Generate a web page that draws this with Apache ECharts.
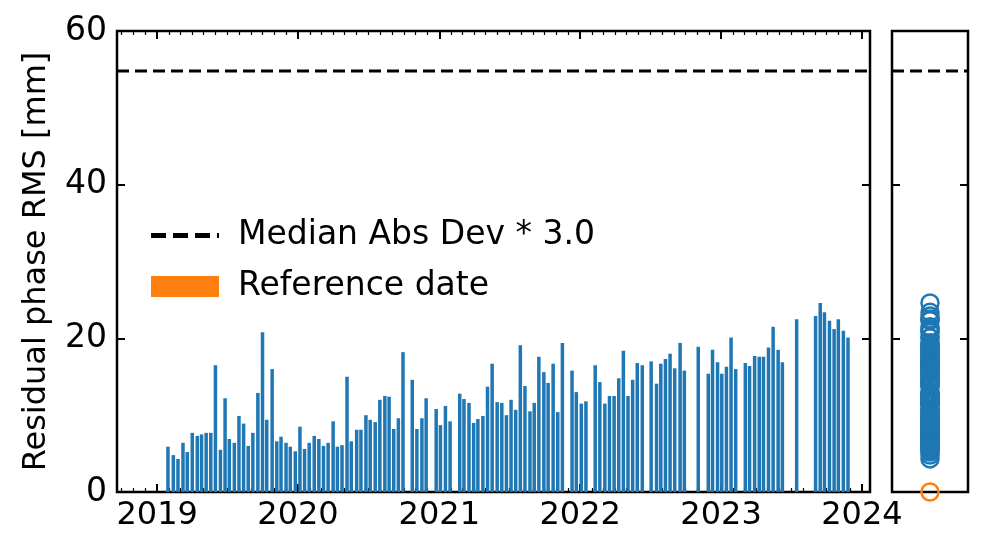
<!DOCTYPE html>
<html lang="en">
<head>
    <meta charset="UTF-8">
    <title>Residual phase RMS</title>
    <script src="https://cdn.jsdelivr.net/npm/echarts@6/dist/echarts.min.js"></script>
</head>
<body style="margin:0">
    <div id="main" style="width: 989px;height:555px;"></div>
    <script type="text/javascript">
        // days since 2019-01-01 for each acquisition
        var days = [28, 42, 54, 67, 78, 91, 104, 115, 127, 139, 151, 164, 176, 187, 200, 212, 224, 236, 248, 261,
            273, 284, 298, 310, 321, 334, 345, 358, 370, 382, 394, 407, 419, 431, 443, 456, 467, 479, 492, 503,
            517, 528, 541, 552, 565, 577, 590, 601, 613, 625, 637, 661, 673, 686, 697, 723, 734, 747, 759, 784,
            795, 808, 820, 831, 844, 856, 868, 881, 893, 905, 917, 929, 941, 953, 966, 977, 989, 1002, 1013, 1026,
            1038, 1050, 1075, 1086, 1099, 1111, 1135, 1147, 1160, 1172, 1184, 1196, 1208, 1220, 1232, 1244, 1257, 1280, 1294, 1305,
            1317, 1329, 1341, 1355, 1366, 1402, 1428, 1439, 1452, 1463, 1475, 1487, 1499, 1524, 1535, 1548, 1560, 1571, 1584, 1596,
            1609, 1620, 1657, 1706, 1718, 1729, 1742, 1754, 1765, 1778, 1790];
        var rms = [5.9, 4.8, 4.3, 6.4, 5.2, 7.7, 7.3, 7.5, 7.7, 7.7, 16.5, 5.5, 12.2, 6.9, 6.4, 9.9, 8.9, 6.0, 7.7, 12.9,
            20.8, 9.4, 16.0, 6.6, 7.2, 6.4, 5.9, 5.3, 8.5, 5.6, 6.4, 7.3, 6.9, 6.0, 6.4, 9.2, 5.9, 6.1, 15.0, 6.6,
            8.1, 8.1, 10.0, 9.4, 9.1, 12.0, 12.5, 12.4, 8.2, 9.6, 18.2, 14.6, 8.2, 9.6, 12.2, 10.8, 8.7, 11.2, 9.2, 12.8,
            12.1, 11.6, 9.0, 9.5, 9.9, 13.7, 16.7, 11.7, 11.6, 10.0, 12.0, 10.7, 19.1, 13.8, 10.5, 11.6, 17.6, 15.6, 14.2, 16.7,
            10.4, 19.4, 15.8, 13.0, 11.5, 11.8, 16.5, 14.3, 11.5, 12.5, 12.5, 14.8, 18.4, 12.5, 14.6, 16.8, 16.5, 17.0, 14.1, 16.7,
            17.3, 18.0, 16.1, 19.4, 15.8, 18.9, 15.4, 18.5, 16.9, 15.4, 16.3, 20.1, 16.0, 16.8, 16.4, 17.7, 17.6, 17.6, 18.8, 21.5,
            18.5, 16.9, 22.5, 22.9, 24.6, 23.4, 22.3, 21.2, 22.5, 21.0, 20.1];
        var threshold = 54.8;
        var yearTicks = [0, 365, 731, 1096, 1461, 1826];
        var yearLabels = ['2019', '2020', '2021', '2022', '2023', '2024'];
        var xMin = -104, xMax = 1847;

        var monthTicks = [];
        var base = Date.UTC(2019, 0, 1);
        for (var m = -3; m <= 61; m++) {
            var d = Math.round((Date.UTC(2019, m, 1) - base) / 86400000);
            if (d > xMin && d < xMax && yearTicks.indexOf(d) < 0) monthTicks.push(d);
        }

        var font = 'DejaVu Sans';
        var barData = days.map(function (d, i) { return [d, rms[i]]; });
        var sideData = rms.map(function (v) { return [0.5, v]; });

        var tickMajor = {inside: true, length: 8, lineStyle: {color: '#000', width: 2}};
        var tickMinor = {inside: true, length: 4, lineStyle: {color: '#000', width: 1.2}};
        var noLine = {show: false, onZero: false};

        function yAxisFor(grid, pos, extra) {
            return Object.assign({
                type: 'value', gridIndex: grid, position: pos, offset: 0,
                min: 0, max: 60, interval: 20,
                axisLine: noLine, splitLine: {show: false},
                axisTick: tickMajor, axisLabel: {show: false}
            }, extra || {});
        }
        function xHidden(grid, pos, ticks, style) {
            return {
                type: 'value', gridIndex: grid, min: xMin, max: xMax, position: pos, offset: 0,
                axisLine: noLine, splitLine: {show: false}, axisLabel: {show: false},
                axisTick: Object.assign({customValues: ticks}, style)
            };
        }

        var dashIcon = 'path://M0,0L15,0L15,5L0,5Z M22,0L37,0L37,5L22,5Z M44,0L59,0L59,5L44,5Z M66,0L68,0L68,5L66,5Z';

        var option = {
            animation: false,
            textStyle: {fontFamily: font},
            grid: [
                {left: 117, right: 119, top: 31, bottom: 63, show: true, borderColor: '#000', borderWidth: 2.5},
                {left: 892, right: 21, top: 31, bottom: 63, show: true, borderColor: '#000', borderWidth: 2.5}
            ],
            legend: {
                left: 146, top: 214, orient: 'vertical', itemGap: 18,
                itemWidth: 68, itemHeight: 21,
                textStyle: {fontSize: 33, color: '#000', fontFamily: font, padding: [0, 0, 0, 14]},
                data: [
                    {name: 'Median Abs Dev * 3.0', icon: dashIcon, itemStyle: {color: '#000', borderWidth: 0}, lineStyle: {width: 0}},
                    {name: 'Reference date', icon: 'rect', itemStyle: {color: '#ff7f0e', borderWidth: 0}}
                ]
            },
            xAxis: [
                {
                    type: 'value', gridIndex: 0, min: xMin, max: xMax, position: 'bottom', offset: 0,
                    axisLine: noLine, splitLine: {show: false},
                    axisTick: Object.assign({customValues: yearTicks}, tickMajor),
                    axisLabel: {customValues: yearTicks, color: '#000', fontSize: 32, margin: 8,
                        formatter: function (v) { return yearLabels[yearTicks.indexOf(v)]; }}
                },
                xHidden(0, 'bottom', monthTicks, tickMinor),
                xHidden(0, 'top', monthTicks, tickMinor),
                xHidden(0, 'top', yearTicks, tickMajor),
                {
                    type: 'value', gridIndex: 1, min: 0, max: 1,
                    axisLine: noLine, splitLine: {show: false}, axisLabel: {show: false}, axisTick: {show: false}
                }
            ],
            yAxis: [
                yAxisFor(0, 'left', {
                    name: 'Residual phase RMS [mm]', nameLocation: 'middle', nameGap: 64,
                    nameTextStyle: {fontSize: 32, color: '#000', fontFamily: font},
                    axisLabel: {color: '#000', fontSize: 33, margin: 10}
                }),
                yAxisFor(0, 'right'),
                yAxisFor(1, 'left'),
                yAxisFor(1, 'right')
            ],
            series: [
                {
                    name: 'RMS', type: 'bar', xAxisIndex: 0, yAxisIndex: 0,
                    barWidth: 3.5, itemStyle: {color: '#1f77b4'}, data: barData
                },
                {
                    name: 'Median Abs Dev * 3.0', type: 'line', xAxisIndex: 0, yAxisIndex: 0,
                    symbol: 'none', lineStyle: {color: '#000', type: [12, 6], width: 3},
                    itemStyle: {color: '#000'},
                    data: [[xMin, threshold], [xMax, threshold]]
                },
                {
                    name: 'side threshold', type: 'line', xAxisIndex: 4, yAxisIndex: 2,
                    symbol: 'none', lineStyle: {color: '#000', type: [12, 6], width: 3},
                    data: [[0, threshold], [1, threshold]]
                },
                {
                    name: 'side rms', type: 'scatter', xAxisIndex: 4, yAxisIndex: 2,
                    symbol: 'circle', symbolSize: 17,
                    itemStyle: {color: 'rgba(0,0,0,0)', borderColor: '#1f77b4', borderWidth: 2.5, opacity: 1},
                    data: sideData
                },
                {
                    name: 'Reference date', type: 'scatter', xAxisIndex: 4, yAxisIndex: 2,
                    symbol: 'circle', symbolSize: 17,
                    itemStyle: {color: 'rgba(0,0,0,0)', borderColor: '#ff7f0e', borderWidth: 2.5, opacity: 1},
                    data: [[0.5, 0]]
                }
            ]
        };

        var myChart = echarts.init(document.getElementById('main'));
        myChart.setOption(option);
    </script>
</body>
</html>
